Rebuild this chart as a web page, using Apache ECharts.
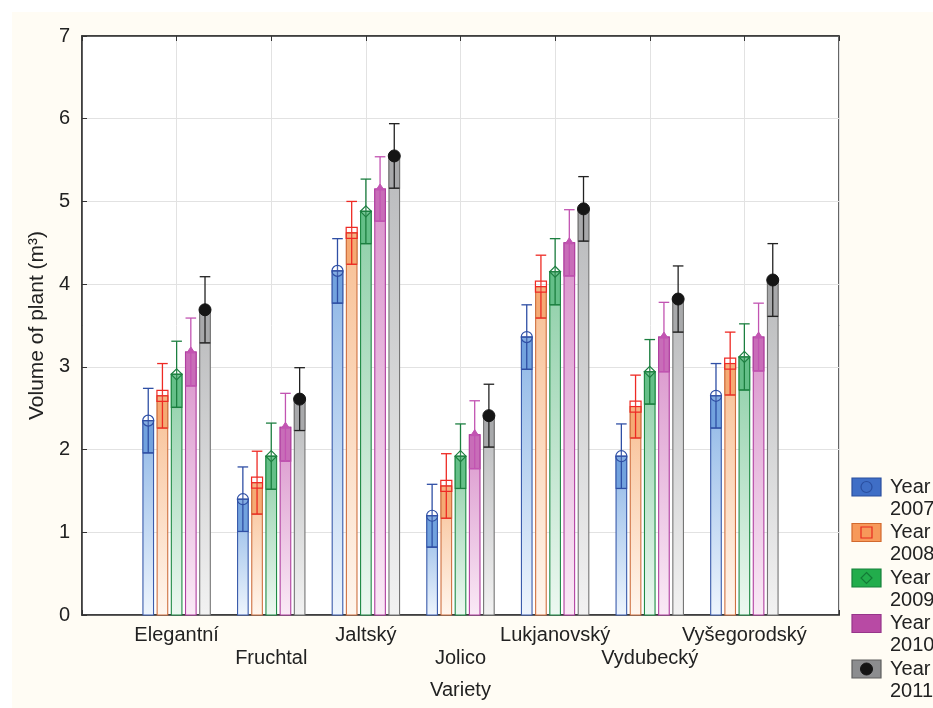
<!DOCTYPE html>
<html>
<head>
<meta charset="utf-8">
<script src="https://cdn.jsdelivr.net/npm/echarts@6/dist/echarts.min.js"></script>
<style>
html,body{margin:0;padding:0;background:#ffffff;}
#chart{width:933px;height:708px;}
</style>
</head>
<body>
<div id="chart"></div>
<script>
const categories = ['Elegantní','Fruchtal','Jaltský','Jolico','Lukjanovský','Vydubecký','Vyšegorodský'];
const years = ['2007','2008','2009','2010','2011'];
const yTicks = [0,1,2,3,4,5,6,7];
const vol2007 = [2.35, 1.40, 4.16, 1.20, 3.36, 1.92, 2.65];
const vol2008 = [2.65, 1.60, 4.62, 1.56, 3.97, 2.52, 3.04];
const vol2009 = [2.91, 1.92, 4.88, 1.92, 4.15, 2.94, 3.12];
const vol2010 = [3.18, 2.27, 5.15, 2.18, 4.50, 3.36, 3.36];
const vol2011 = [3.69, 2.61, 5.55, 2.41, 4.91, 3.82, 4.05];
const err2007 = [0.39, 0.39, 0.39, 0.38, 0.39, 0.39, 0.39];
const err2008 = [0.39, 0.38, 0.38, 0.39, 0.38, 0.38, 0.38];
const err2009 = [0.40, 0.40, 0.39, 0.39, 0.40, 0.39, 0.40];
const err2010 = [0.41, 0.41, 0.39, 0.41, 0.40, 0.42, 0.41];
const err2011 = [0.40, 0.38, 0.39, 0.38, 0.39, 0.40, 0.44];

const values = [vol2007, vol2008, vol2009, vol2010, vol2011];
const errors = [err2007, err2008, err2009, err2010, err2011];

const styles = [
  {border:'#3a5bab', whisker:'#2f4fa5', top:'#8db6e6', bottom:'#eef5fd', box:'#72a2de', marker:'circle', legendFill:'#3f6ec6', legendBorder:'#2b4f9e', legendMark:'#2a4fa0'},
  {border:'#cf7040', whisker:'#ee2a24', top:'#f8bf93', bottom:'#fff6ee', box:'#f5aa74', marker:'square', legendFill:'#f7995a', legendBorder:'#d2692e', legendMark:'#e82a20'},
  {border:'#1f8a45', whisker:'#1c7f40', top:'#8dcfa7', bottom:'#edf8f1', box:'#64bf88', marker:'diamond', legendFill:'#22ad4c', legendBorder:'#17803a', legendMark:'#137a36'},
  {border:'#b03fa0', whisker:'#c254b2', top:'#d993cb', bottom:'#faeaf6', box:'#c86db8', marker:'triangle', legendFill:'#b84aa4', legendBorder:'#97358a', legendMark:'#b84aa4'},
  {border:'#757575', whisker:'#222222', top:'#b9babc', bottom:'#f2f2f2', box:'#a8a9ab', marker:'dot', legendFill:'#8c8d8f', legendBorder:'#5e5e5e', legendMark:'#151515'}
];

const FONT = "'Liberation Sans', Arial, sans-serif";
const FS = 20;
const chart = echarts.init(document.getElementById('chart'), null, {renderer:'canvas'});

function markerShapes(kind, cx, cy, color, withCross){
  const out = [];
  if (kind === 'circle') {
    out.push({type:'circle', shape:{cx, cy, r:5.5}, style:{fill:'rgba(255,255,255,0.12)', stroke:color, lineWidth:1.2}});
    if (withCross) out.push({type:'line', shape:{x1:cx-5.5, y1:cy, x2:cx+5.5, y2:cy}, style:{stroke:color, lineWidth:1.2}});
  } else if (kind === 'square') {
    out.push({type:'rect', shape:{x:cx-5.5, y:cy-5.5, width:11, height:11}, style:{fill:'rgba(255,255,255,0.1)', stroke:color, lineWidth:1.2}});
    if (withCross) out.push({type:'line', shape:{x1:cx-5.5, y1:cy, x2:cx+5.5, y2:cy}, style:{stroke:color, lineWidth:1.2}});
  } else if (kind === 'diamond') {
    out.push({type:'polygon', shape:{points:[[cx,cy-5.5],[cx+5.5,cy],[cx,cy+5.5],[cx-5.5,cy]]}, style:{fill:'rgba(255,255,255,0.1)', stroke:color, lineWidth:1.2}});
    if (withCross) out.push({type:'line', shape:{x1:cx-5.5, y1:cy, x2:cx+5.5, y2:cy}, style:{stroke:color, lineWidth:1.2}});
  } else if (kind === 'triangle') {
    out.push({type:'polygon', shape:{points:[[cx,cy-5],[cx+4,cy+1],[cx-4,cy+1]]}, style:{fill:color, stroke:color, lineWidth:1}});
  } else {
    out.push({type:'circle', shape:{cx, cy, r:6}, style:{fill:color, stroke:color, lineWidth:1}});
  }
  return out;
}

const series = years.map((yr, si) => ({
  name: 'Year ' + yr,
  type: 'custom',
  data: categories.map((c, ci) => [ci + 1, values[si][ci], errors[si][ci]]),
  encode: {x: 0, y: 1},
  z: 3,
  renderItem: function(params, api){
    const st = styles[si];
    const off = (si - 2) * 0.15;
    const xv = api.value(0) + off;
    const m = api.value(1), e = api.value(2);
    const w = api.size([0.112, 0])[0];
    const pTop = api.coord([xv, m]);
    const pBase = api.coord([xv, 0]);
    const pLo = api.coord([xv, m - e]);
    const pHi = api.coord([xv, m + e]);
    const cx = pTop[0];
    const x0 = cx - w/2;
    const children = [];
    children.push({type:'rect', shape:{x:x0, y:pTop[1], width:w, height:pBase[1]-pTop[1]},
      style:{fill:new echarts.graphic.LinearGradient(0,0,0,1,[{offset:0,color:st.top},{offset:1,color:st.bottom}]), stroke:st.border, lineWidth:1.1}});
    children.push({type:'rect', shape:{x:x0, y:pTop[1], width:w, height:pLo[1]-pTop[1]},
      style:{fill:st.box, stroke:st.border, lineWidth:1.1}});
    children.push({type:'line', shape:{x1:cx, y1:pLo[1], x2:cx, y2:pHi[1]}, style:{stroke:st.whisker, lineWidth:1.3}});
    children.push({type:'line', shape:{x1:x0, y1:pHi[1], x2:x0+w, y2:pHi[1]}, style:{stroke:st.whisker, lineWidth:1.3}});
    children.push({type:'line', shape:{x1:x0, y1:pLo[1], x2:x0+w, y2:pLo[1]}, style:{stroke:st.whisker, lineWidth:1.3}});
    markerShapes(st.marker, cx, pTop[1], st.marker === 'dot' ? '#151515' : st.whisker, true).forEach(s => children.push(s));
    return {type:'group', children};
  }
}));

// legend drawn as graphic from years/styles
const legendGraphics = [];
years.forEach((yr, i) => {
  const st = styles[i];
  const yc = 487 + i * 45.5;
  legendGraphics.push({type:'rect', shape:{x:852, y:yc-9, width:29, height:18}, style:{fill:st.legendFill, stroke:st.legendBorder, lineWidth:1.2}});
  if (st.marker !== 'triangle') {
    markerShapes(st.marker, 866.5, yc, st.legendMark, false).forEach(s => {
      if (st.marker !== 'dot') s.style.fill = 'transparent';
      legendGraphics.push(s);
    });
  }
  legendGraphics.push({type:'text', x:890, y:yc, style:{text:'Year', font:FS + 'px ' + FONT, fill:'#222', textVerticalAlign:'middle'}});
  legendGraphics.push({type:'text', x:890, y:yc+22, style:{text:yr, font:FS + 'px ' + FONT, fill:'#222', textVerticalAlign:'middle'}});
});

const option = {
  backgroundColor: '#ffffff',
  animation: false,
  graphic: [
    {type:'rect', shape:{x:12, y:12, width:921, height:696}, style:{fill:'#fffcf4'}, z:-10, silent:true},
    ...legendGraphics
  ],
  grid: {left:82, right:94, top:36, bottom:93, show:true, backgroundColor:'#ffffff', borderColor:'#333', borderWidth:1.5},
  xAxis: [{
    type:'value', min:0, max:8, interval:1,
    name:'Variety', nameLocation:'middle', nameGap:65,
    nameTextStyle:{fontFamily:FONT, fontSize:FS, color:'#222'},
    axisLine:{show:true, lineStyle:{color:'#333', width:1.5}},
    axisTick:{show:true, inside:true, length:5, lineStyle:{color:'#333'}},
    splitLine:{show:true, lineStyle:{color:'#e2e2e2', width:1}},
    axisLabel:{
      margin:9, fontFamily:FONT, fontSize:FS, color:'#222', lineHeight:23,
      formatter: function(v){
        const i = Math.round(v) - 1;
        if (i < 0 || i >= categories.length) return '';
        return i % 2 === 0 ? categories[i] : '\n' + categories[i];
      }
    }
  },{
    type:'value', min:0, max:8, interval:1, position:'top',
    axisLine:{show:true, lineStyle:{color:'#333', width:1.5}},
    axisTick:{show:true, inside:true, length:5, lineStyle:{color:'#333'}},
    axisLabel:{show:false}, splitLine:{show:false}
  }],
  yAxis: {
    type:'value', min:0, max:7, interval:1,
    name:'Volume of plant (m³)', nameLocation:'middle', nameGap:34,
    nameTextStyle:{fontFamily:FONT, fontSize:21, color:'#222'},
    axisLine:{show:true, lineStyle:{color:'#333', width:1.5}},
    axisTick:{show:true, inside:true, length:5, lineStyle:{color:'#333'}},
    splitLine:{show:true, lineStyle:{color:'#e2e2e2', width:1}},
    axisLabel:{margin:12, fontFamily:FONT, fontSize:FS, color:'#222',
      formatter: function(v){ return yTicks.indexOf(v) >= 0 ? String(v) : ''; }}
  },
  series: series
};
chart.setOption(option);
</script>
</body>
</html>
